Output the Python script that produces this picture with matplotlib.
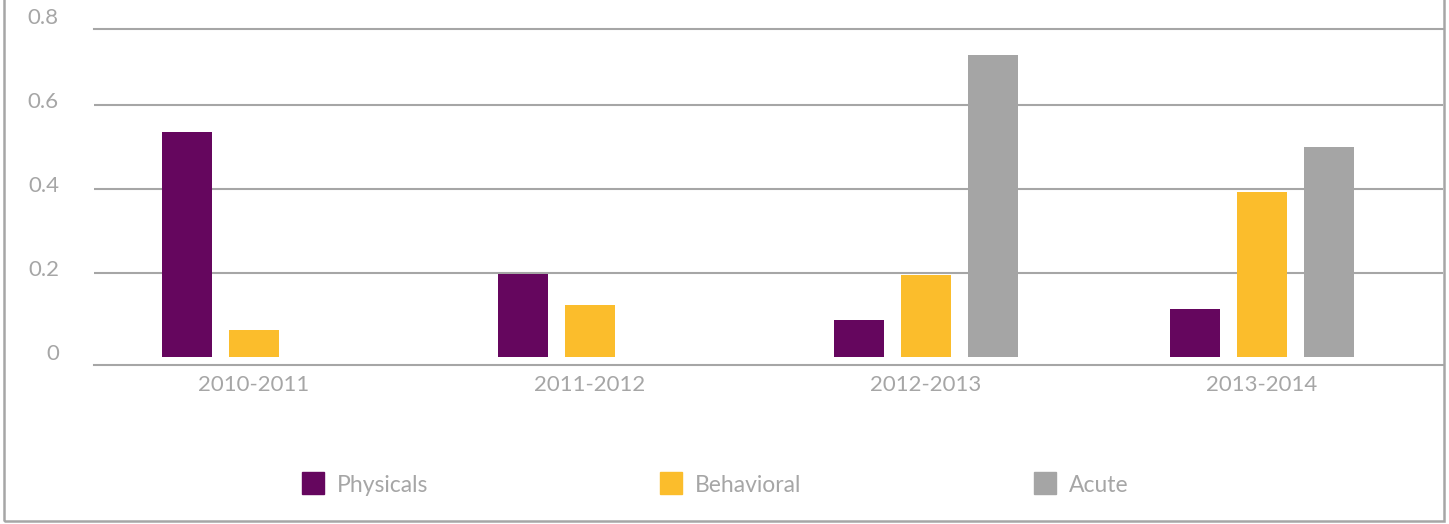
import matplotlib
matplotlib.use("Agg")
import matplotlib.pyplot as plt
from matplotlib.patches import Rectangle
import numpy as np

categories = ["2010-2011", "2011-2012", "2012-2013", "2013-2014"]
series_names = ["Physicals", "Behavioral", "Acute"]
physicals = [0.536, 0.198, 0.088, 0.114]
behavioral = [0.065, 0.124, 0.195, 0.393]
acute = [np.nan, np.nan, 0.719, 0.500]
y_ticks = [0, 0.2, 0.4, 0.6, 0.8]
y_tick_labels = ["0", "0.2", "0.4", "0.6", "0.8"]

colors = ["#65065E", "#FBBD2C", "#A5A5A5"]
grid_color = "#A6A6A6"
text_color = "#A6A6A6"

W, H = 1449, 524
fig = plt.figure(figsize=(W / 100, H / 100), dpi=100)
plt.rcParams['font.family'] = ['Lato', 'DejaVu Sans']

# axes in pixel coordinates
left_px, right_px, top_px, bot_px = 94, 1443, 29, 365
ax = fig.add_axes([left_px / W, (H - bot_px) / H, (right_px - left_px) / W, (bot_px - top_px) / H])

px_per_unit = 420.0
zero_px = 357.0
ymin = -(bot_px - zero_px) / px_per_unit
ymax = (zero_px - top_px) / px_per_unit
ax.set_ylim(ymin, ymax)

x = np.arange(len(categories))
width = 50 / 336
step = 67 / 336
ax.set_xlim((left_px - 254) / 336, (right_px - 254) / 336)

for i, (vals, c) in enumerate(zip([physicals, behavioral, acute], colors)):
    ax.bar(x + (i - 1) * step, vals, width=width, color=c, zorder=3, label=series_names[i])

# gridlines
for t in y_ticks[1:4]:
    ax.axhline(t, color=grid_color, lw=1.5, zorder=1)
for s in ["left", "right"]:
    ax.spines[s].set_visible(False)
ax.spines["top"].set_color(grid_color)
ax.spines["top"].set_linewidth(1.5)
ax.spines["bottom"].set_color(grid_color)
ax.spines["bottom"].set_linewidth(1.5)

ax.set_yticks([])
ax.tick_params(axis='x', length=0, pad=7, labelsize=16, labelcolor=text_color)
ax.set_xticks(x)
ax.set_xticklabels(categories)

# y tick labels (rendered slightly above their value)
for t, lab in zip(y_ticks, y_tick_labels):
    ypx = zero_px - t * px_per_unit - 3.5
    fig.text(59 / W, (H - ypx) / H, lab, ha='right', va='center',
             fontsize=16, color=text_color)

# legend
leg_x = [302, 660, 1034]
for name, c, lx in zip(series_names, colors, leg_x):
    fig.add_artist(Rectangle((lx / W, (H - 494) / H), 22 / W, 22 / H,
                             transform=fig.transFigure, color=c))
    fig.text((lx + 35) / W, (H - 486) / H, name, ha='left', va='center',
             fontsize=16.5, color=text_color)

# outer frame
fig.add_artist(Rectangle((3.5 / W, 3 / H), (1444 - 3.5) / W, 1.2,
                         transform=fig.transFigure, fill=False,
                         edgecolor="#A6A6A6", lw=1.8))

fig.savefig("out.png", dpi=100)
